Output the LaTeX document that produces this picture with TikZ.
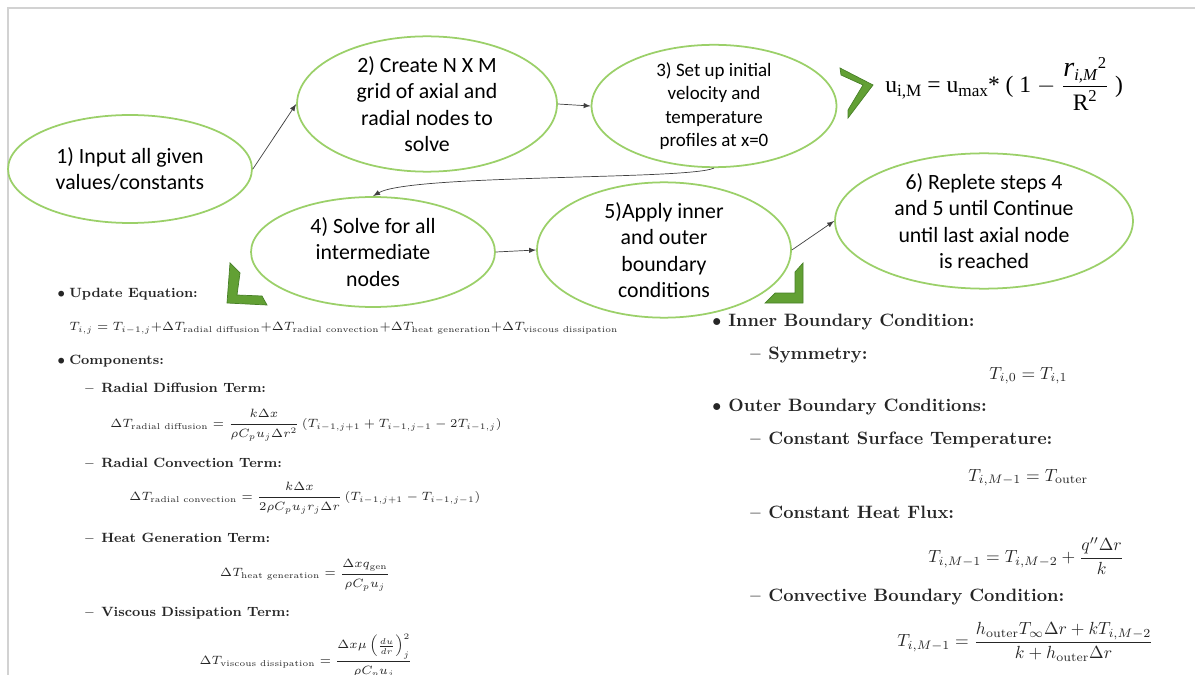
\RequirePackage{fix-cm}
\documentclass[tikz,border=0pt]{standalone}
\usepackage{fontspec}
\usepackage{amsmath}
\newfontfamily\calib{Carlito}
\newfontfamily\formfont{Liberation Serif}
\usetikzlibrary{positioning, shapes.geometric, arrows}

\definecolor{ringgreen}{RGB}{155,208,105}
\definecolor{chevgreen}{RGB}{98,160,52}
\definecolor{chevedge}{RGB}{72,128,40}

\newcommand{\smallsub}[1]{\mbox{\fontsize{9.5}{11}\selectfont #1}}

\begin{document}
\begin{tikzpicture}[
    x=0.02cm, y=-0.02cm,
    bubble/.style={ellipse, draw=ringgreen, line width=1pt, fill=white, align=center, inner sep=0pt,
      font=\calib\fontsize{12.4}{15.1}\selectfont},
    flow/.style={-latex, black!75, line width=0.4pt},
    chev/.style={fill=chevgreen, draw=chevedge, line width=0.4pt},
    lhead/.style={anchor=base west, inner sep=0pt, text=black!85, font=\bfseries\fontsize{7.65}{9}\selectfont},
    leq/.style={inner sep=0pt, text=black!85, font=\fontsize{6.85}{8}\selectfont},
    rhead/.style={anchor=base west, inner sep=0pt, text=black!85, font=\bfseries\fontsize{10.2}{12}\selectfont},
    req/.style={inner sep=0pt, text=black!85, font=\fontsize{10}{12}\selectfont}
  ]

  \useasboundingbox (0,0) rectangle (1195,675);
  \clip (0,0) rectangle (1195,675);
  \draw[gray!35, line width=0.6pt] (8,675) -- (8,8) -- (1195,8);

%% the six steps of the solver
  \node[bubble, minimum width=4.88cm, minimum height=2.16cm] (input) at (130,169) {1) Input all given\\values/constants};
  \node[bubble, minimum width=5.2cm, minimum height=2.56cm] (grid) at (427,104) {2) Create N X M\\grid of axial and\\radial nodes to\\solve};
  \node[bubble, minimum width=4.9cm, minimum height=2.16cm, font=\calib\fontsize{10.8}{13.2}\selectfont] (init) at (714,106)
    {3) Set up initial\\velocity and\\temperature\\profiles at x=0};
  \node[bubble, minimum width=4.88cm, minimum height=2.2cm] (solve) at (373,252) {4) Solve for all\\intermediate\\nodes};
  \node[bubble, minimum width=5.08cm, minimum height=2.32cm] (bound) at (664,250) {5)Apply inner\\and outer\\boundary\\conditions};
  \node[bubble, minimum width=5.96cm, minimum height=2.56cm] (repeat) at (984,221)
    {6) Replete steps 4\\and 5 until Continue\\until last axial node\\is reached};

  \draw[flow] (input.east) -- (grid.west);
  \draw[flow] (grid.east) -- (init.west);
  \draw[flow] (init.south) .. controls (690,180) and (410,174) .. (solve.north);
  \draw[flow] (solve.east) -- (bound.west);
  \draw[flow] (bound.east) -- (repeat.west);

%% green chevrons pointing to the details
  \filldraw[chev] (840,68) -- (873,85) -- (848,118) -- (848,110) -- (863,85) -- (841,75) -- cycle;
  \filldraw[chev] (230,263) -- (240,273) -- (237,295) -- (262,296) -- (267,305) -- (227,303) -- cycle;
  \filldraw[chev] (803,263) -- (803,303) -- (765,303) -- (775,293) -- (795,293) -- (795,272) -- cycle;

%% inlet velocity profile
  \node[anchor=west, inner sep=0pt, font=\formfont\fontsize{13.4}{16}\selectfont] (profile) at (885,84)
    {u\raisebox{-0.4ex}{\fontsize{9.8}{11}\selectfont i,M} = u\raisebox{-0.4ex}{\fontsize{9.8}{11}\selectfont max}* ( 1 $-$
     $\dfrac{\mbox{\fontsize{16}{18}\selectfont\itshape r}_{\smallsub{\itshape i,M}}{}^{\smallsub{2}}}
     {\mbox{R}^{\smallsub{2}}}$ )};

%% interior update
  \node[lhead] (b1) at (57,297) {$\bullet$};
  \node[lhead] (updhd) at (69,297) {Update Equation:};
  \node[leq, anchor=base west] (upd) at (69,330)
    {$T_{i,j} = T_{i-1,j}{+}\Delta T_{\text{radial diffusion}}{+}\Delta T_{\text{radial convection}}{+}\Delta T_{\text{heat generation}}{+}\Delta T_{\text{viscous dissipation}}$};
  \node[lhead] (b2) at (57,364) {$\bullet$};
  \node[lhead] (comphd) at (69,364) {Components:};

  \node[lhead] (d1) at (85,392) {--};
  \node[lhead] (diffhd) at (101,392) {Radial Diffusion Term:};
  \node[leq] (diff) at (306,425)
    {$\Delta T_{\text{radial diffusion}} = \dfrac{k\Delta x}{\rho C_p u_j \Delta r^2}\left(T_{i-1,j+1} + T_{i-1,j-1} - 2T_{i-1,j}\right)$};
  \node[lhead] (d2) at (85,467) {--};
  \node[lhead] (convhd) at (101,467) {Radial Convection Term:};
  \node[leq] (conv) at (305,498)
    {$\Delta T_{\text{radial convection}} = \dfrac{k\Delta x}{2\rho C_p u_j r_j \Delta r}\left(T_{i-1,j+1} - T_{i-1,j-1}\right)$};
  \node[lhead] (d3) at (85,542) {--};
  \node[lhead] (genhd) at (101,542) {Heat Generation Term:};
  \node[leq] (gen) at (305,575)
    {$\Delta T_{\text{heat generation}} = \dfrac{\Delta x q_{\text{gen}}}{\rho C_p u_j}$};
  \node[lhead] (d4) at (85,616) {--};
  \node[lhead] (vischd) at (101,616) {Viscous Dissipation Term:};
  \node[leq] (visc) at (306,656)
    {$\Delta T_{\text{viscous dissipation}} = \dfrac{\Delta x\mu\left(\frac{du}{dr}\right)_j^2}{\rho C_p u_j}$};

%% boundaries
  \node[rhead] (b3) at (712,326) {$\bullet$};
  \node[rhead] (innerhd) at (728,326) {Inner Boundary Condition:};
  \node[rhead] (d5) at (750,359) {--};
  \node[rhead] (symhd) at (768,359) {Symmetry:};
  \node[req, anchor=base west] (sym) at (989,379) {$T_{i,0} = T_{i,1}$};
  \node[rhead] (b4) at (712,411) {$\bullet$};
  \node[rhead] (outerhd) at (728,411) {Outer Boundary Conditions:};
  \node[rhead] (d6) at (750,444) {--};
  \node[rhead] (surfhd) at (768,444) {Constant Surface Temperature:};
  \node[req, anchor=base west] (surf) at (968,481) {$T_{i,M-1} = T_{\text{outer}}$};
  \node[rhead] (d7) at (750,518) {--};
  \node[rhead] (fluxhd) at (768,518) {Constant Heat Flux:};
  \node[req, anchor=west] (flux) at (928,556) {$T_{i,M-1} = T_{i,M-2} + \dfrac{q''\Delta r}{k}$};
  \node[rhead] (d8) at (750,601) {--};
  \node[rhead] (cvhd) at (768,601) {Convective Boundary Condition:};
  \node[req, anchor=west] (cv) at (897,642)
    {$T_{i,M-1} = \dfrac{h_{\text{outer}} T_\infty \Delta r + kT_{i,M-2}}{k + h_{\text{outer}}\Delta r}$};

\end{tikzpicture}
\end{document}
